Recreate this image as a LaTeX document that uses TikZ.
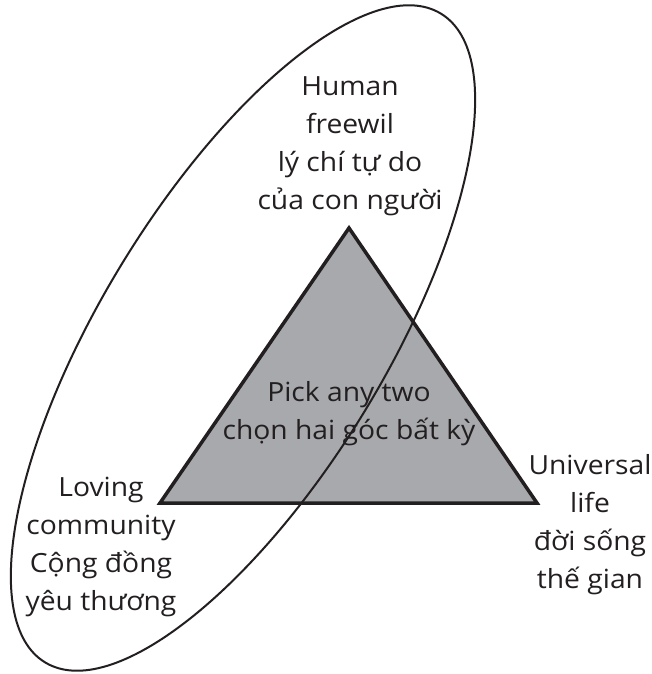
\documentclass[tikz,border=0pt]{standalone}
\usepackage{fontspec}
\setmainfont[FakeStretch=1.07]{Open Sans}
\begin{document}
\begin{tikzpicture}[x=1bp,y=-1bp,
  lbl/.style={align=center,anchor=base,inner sep=0pt,font=\fontsize{26.5}{38}\selectfont,text=inkblack},
  triedge/.style={draw=inkblack,line width=3.5bp,line join=miter},
  ring/.style={draw=inkblack,line width=2bp}]
\definecolor{trigray}{HTML}{A7A9AC}
\definecolor{inkblack}{HTML}{231F20}
\useasboundingbox (0,0) rectangle (652,674);
\coordinate (apex) at (349,228);
\coordinate (bl) at (160,503);
\coordinate (br) at (537,503);
\coordinate (ec) at (243,338);
\fill[trigray] (apex) -- (bl) -- (br) -- cycle;
\draw[triedge] (apex) -- (bl) -- (br) -- cycle;
\draw[ring,rotate around={58.6:(ec)}] (ec) ellipse [x radius=380, y radius=142];
\node[lbl] (top) at (350,209) {Human\\freewil\\lý chí tự do\\của con người};
\node[lbl] (mid) at (349,439) {Pick any two\\chọn hai góc bất kỳ};
\node[lbl] (left) at (101,610) {Loving\\community\\Cộng đồng\\yêu thương};
\node[lbl] (right) at (590,588) {Universal\\life\\đời sống\\thế gian};
\end{tikzpicture}
\end{document}
